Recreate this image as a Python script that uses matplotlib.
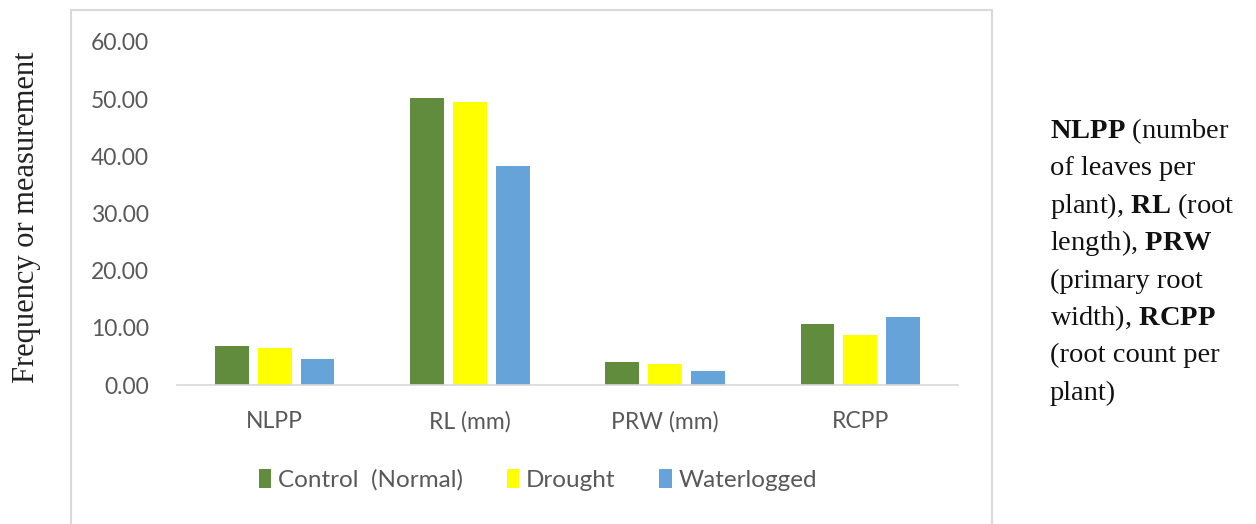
import matplotlib.pyplot as plt
import numpy as np
from matplotlib.patches import Rectangle

plt.rcParams['mathtext.fontset'] = 'custom'
plt.rcParams['mathtext.rm'] = 'Liberation Serif'
plt.rcParams['mathtext.bf'] = 'Liberation Serif:bold'

# data
categories = ["NLPP", "RL (mm)", "PRW (mm)", "RCPP"]
control = [6.8, 50.2, 4.0, 10.7]
drought = [6.5, 49.5, 3.6, 8.7]
waterlogged = [4.5, 38.3, 2.4, 11.9]
series_names = ["Control  (Normal)", "Drought", "Waterlogged"]
colors = ["#618B3D", "#FFFF00", "#66A3D9"]

fig = plt.figure(figsize=(12.56, 5.24), dpi=100)
ax = fig.add_axes([177/1256, 1 - 385/524, (958 - 177)/1256, (385 - 42)/524])

x = np.arange(len(categories))
w = 0.173
off = 0.22
for i, (vals, name, c) in enumerate(zip([control, drought, waterlogged], series_names, colors)):
    ax.bar(x + (i - 1) * off, vals, width=w, color=c, label=name, zorder=2)

ax.set_xlim(-0.5, len(categories) - 0.5)
ax.set_ylim(0, 60)
ax.set_yticks(np.arange(0, 61, 10))
ax.set_yticklabels([f"{v:.2f}" for v in np.arange(0, 61, 10)])
ax.set_xticks(x)
ax.set_xticklabels(categories)

for s in ["top", "right", "left"]:
    ax.spines[s].set_visible(False)
ax.spines["bottom"].set_color("#d9d9d9")
ax.spines["bottom"].set_linewidth(1.2)
ax.tick_params(axis="both", length=0, labelsize=16.5, labelcolor="#595959")
ax.tick_params(axis="y", pad=20)
ax.tick_params(axis="x", pad=19)
for lab in ax.get_xticklabels() + ax.get_yticklabels():
    lab.set_fontfamily("Lato")

# chart border
fig.patches.append(Rectangle((71/1256, -0.05), (992 - 71)/1256, 1.05 - 10/524,
                             transform=fig.transFigure, fill=False,
                             edgecolor="#d9d9d9", linewidth=1.5))

fig.text(27/1256, 1 - 217/524, "Frequency or measurement", rotation=90,
         family="Liberation Serif", fontsize=22, ha="center", va="center", color="#222222")

leg = fig.legend(loc="center", bbox_to_anchor=(538/1256, 1 - 480/524), ncol=3,
                 frameon=False, handlelength=0.5, handleheight=0.8, handletextpad=0.3,
                 columnspacing=1.8, prop={"family": "Lato", "size": 17.5})
for t in leg.get_texts():
    t.set_color("#595959")

lines = [r"$\mathbf{NLPP}$ (number",
         "of leaves per",
         r"plant), $\mathbf{RL}$ (root",
         r"length), $\mathbf{PRW}$",
         "(primary root",
         r"width), $\mathbf{RCPP}$",
         "(root count per",
         "plant)"]
for i, line in enumerate(lines):
    fig.text(1050/1256, 1 - (138 + i*37.4)/524, line, family="Liberation Serif",
             fontsize=20.5, ha="left", va="baseline", color="#111111")

fig.savefig("out.png", dpi=100)
